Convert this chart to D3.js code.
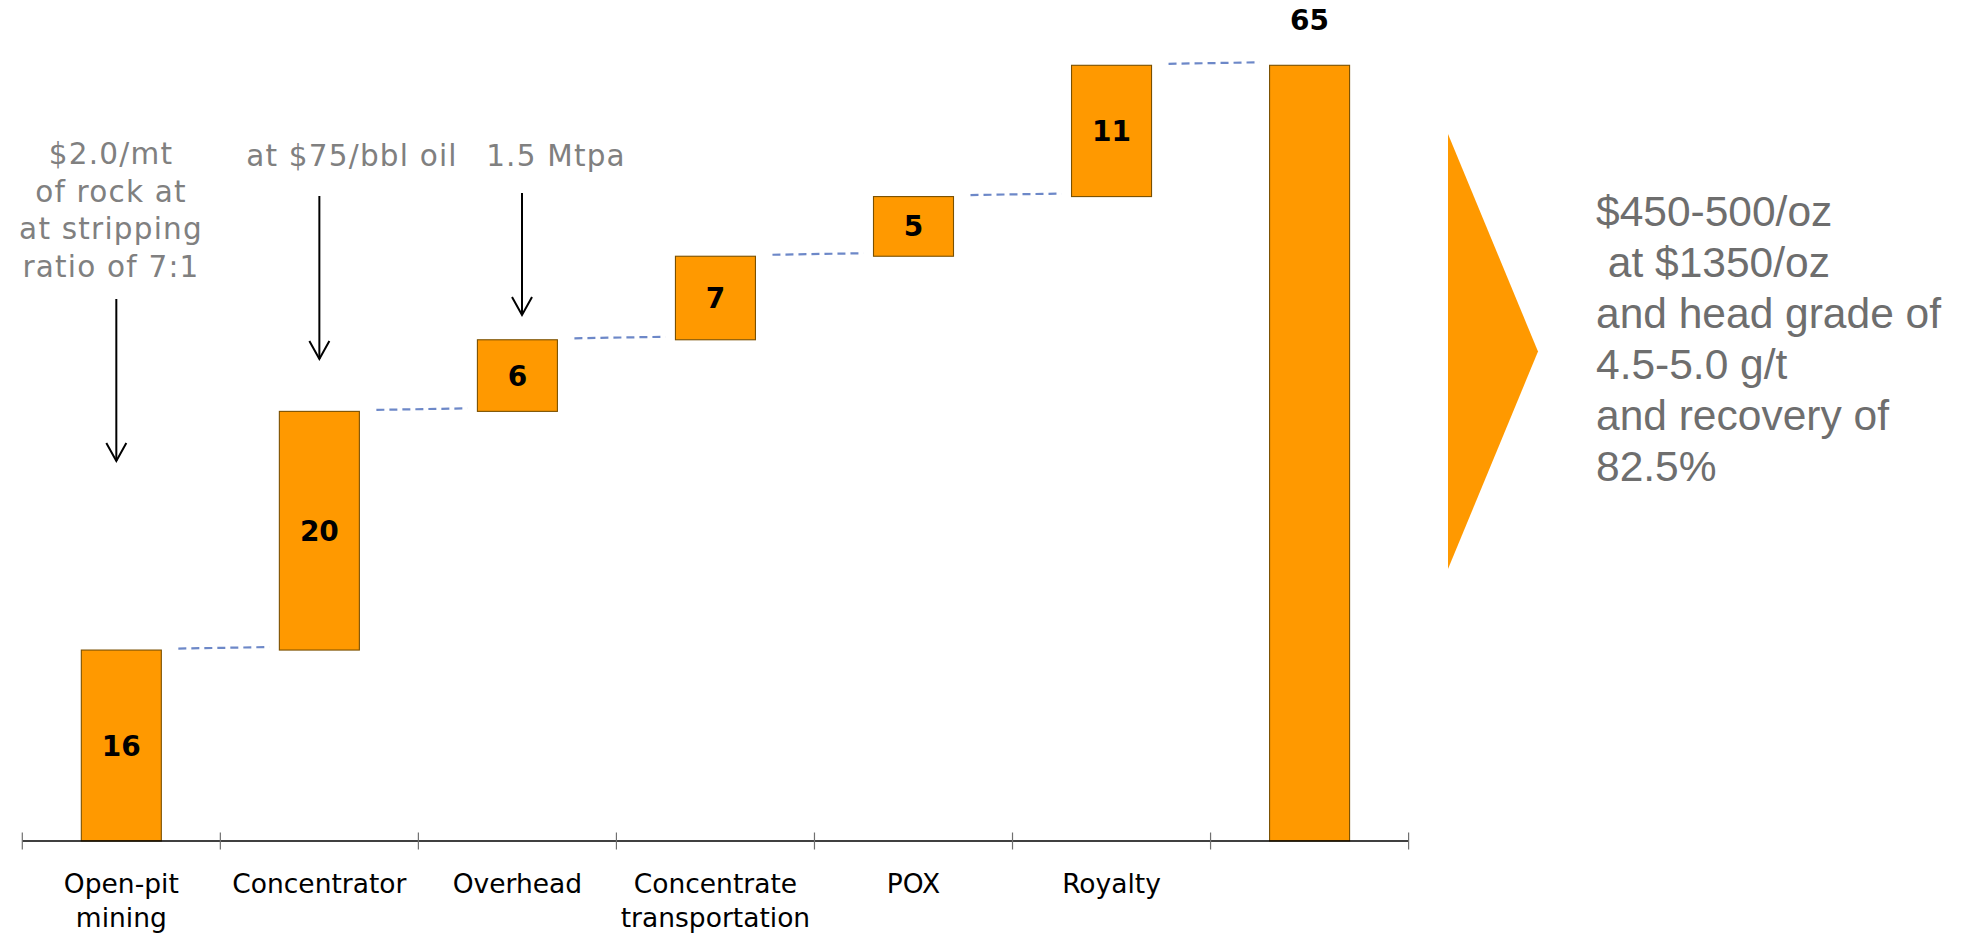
<!DOCTYPE html>
<html>
<head>
<meta charset="utf-8">
<script src="https://cdn.jsdelivr.net/npm/d3@7"></script>
<style>
  html, body { margin: 0; padding: 0; background: #ffffff; }
  svg { display: block; }
</style>
</head>
<body>
<svg id="chart" width="1966" height="933"></svg>
<script>
// ---- data ----
const categories = ["Open-pit mining", "Concentrator", "Overhead", "Concentrate transportation", "POX", "Royalty", "Total"];
const categoryLines = [["Open-pit", "mining"], ["Concentrator"], ["Overhead"], ["Concentrate", "transportation"], ["POX"], ["Royalty"], []];
const stepValues = [16, 20, 6, 7, 5, 11];
const totalValue = 65;
const annotation1 = ["$2.0/mt", "of rock at", "at stripping", "ratio of 7:1"];
const annotation2 = ["at $75/bbl oil"];
const annotation3 = ["1.5 Mtpa"];
const sideText = ["$450-500/oz", " at $1350/oz", "and head grade of", "4.5-5.0 g/t", "and recovery of", "82.5%"];

// ---- build waterfall table ----
let run = 0;
const bars = stepValues.map((v, i) => {
  const b = { i, start: run, end: run + v, value: v, total: false };
  run += v;
  return b;
});
bars.push({ i: stepValues.length, start: 0, end: totalValue, value: totalValue, total: true });

const svg = d3.select("#chart");
const ORANGE = "#ff9900";
const STROKE = "#7a5000";

const x = d3.scaleBand()
  .domain(d3.range(categories.length))
  .range([22.3, 1408.6])
  .paddingInner(0.596)
  .paddingOuter(0.298);
const y = d3.scaleLinear().domain([0, 65]).range([841, 65.3]);
const bw = x.bandwidth();
const gapHalf = (x.step() - bw) / 2;

// connectors
const conn = svg.append("g");
bars.slice(0, -1).forEach((b, k) => {
  const next = bars[k + 1];
  const yy = y(b.end);
  conn.append("line")
    .attr("x1", x(b.i) + bw + 17)
    .attr("x2", x(next.i) - 10)
    .attr("y1", yy - 1.5)
    .attr("y2", yy - 3)
    .attr("stroke", "#6d88c8")
    .attr("stroke-width", 2.2)
    .attr("stroke-dasharray", "8,5");
});

// bars
svg.append("g").selectAll("rect").data(bars).join("rect")
  .attr("x", d => x(d.i))
  .attr("width", bw)
  .attr("y", d => y(d.end))
  .attr("height", d => y(d.start) - y(d.end))
  .attr("fill", ORANGE)
  .attr("stroke", STROKE)
  .attr("stroke-width", 1.1);

// value labels
svg.append("g").selectAll("text").data(bars).join("text")
  .attr("x", d => x(d.i) + bw / 2)
  .attr("y", d => d.total ? y(d.end) - 35 : (y(d.start) + y(d.end)) / 2)
  .attr("dy", d => d.total ? 0 : "0.36em")
  .attr("text-anchor", "middle")
  .attr("font-family", "DejaVu Sans, Verdana, sans-serif")
  .attr("font-weight", "bold")
  .attr("font-size", "28px")
  .attr("fill", "#000")
  .text(d => d.value);

// axis
const axisG = svg.append("g");
const [r0, r1] = x.range();
axisG.append("line")
  .attr("x1", r0).attr("x2", r1)
  .attr("y1", y(0)).attr("y2", y(0))
  .attr("stroke", "#000").attr("stroke-width", 1.3);
const bounds = d3.range(categories.length).map(i => x(i) - gapHalf).concat([r1]);
axisG.selectAll("line.tick").data(bounds).join("line")
  .attr("class", "tick")
  .attr("x1", d => d).attr("x2", d => d)
  .attr("y1", y(0) - 8.5).attr("y2", y(0) + 8.5)
  .attr("stroke", "#707070").attr("stroke-width", 1.2);

// category labels
const catG = svg.append("g")
  .attr("font-family", "DejaVu Sans, Verdana, sans-serif")
  .attr("font-size", "26.5px")
  .attr("fill", "#000")
  .attr("text-anchor", "middle");
categoryLines.forEach((lines, i) => {
  const t = catG.append("text").attr("x", x(i) + bw / 2).attr("y", 893.3);
  lines.forEach((ln, j) => {
    t.append("tspan").attr("x", x(i) + bw / 2).attr("dy", j === 0 ? 0 : 33.4).text(ln);
  });
});

// annotations (gray text + arrows)
const annG = svg.append("g")
  .attr("font-family", "DejaVu Sans, Verdana, sans-serif")
  .attr("font-size", "29.5px")
  .attr("letter-spacing", "1.2px")
  .attr("fill", "#808080")
  .attr("text-anchor", "middle");
function annot(lines, cx, baseline) {
  lines.forEach((ln, j) => {
    annG.append("text").attr("x", cx).attr("y", baseline + j * 37.5).text(ln);
  });
}
annot(annotation1, 111, 164.3);
annot(annotation2, 352, 165.7);
annot(annotation3, 556, 165.7);

function arrow(ax, y1, y2) {
  const g = svg.append("g").attr("stroke", "#000").attr("stroke-width", 2).attr("fill", "none");
  g.append("line").attr("x1", ax).attr("x2", ax).attr("y1", y1).attr("y2", y2);
  g.append("path").attr("d", `M${ax - 10},${y2 - 18} L${ax},${y2} L${ax + 10},${y2 - 18}`);
}
arrow(x(0) + bw / 2 - 5, 299, 461);
arrow(x(1) + bw / 2, 196, 359);
arrow(x(2) + bw / 2 + 4.6, 193, 315);

// right side triangle + text
svg.append("path")
  .attr("d", "M1448,134 L1538,351.5 L1448,569 Z")
  .attr("fill", ORANGE);
const side = svg.append("g")
  .attr("font-family", "Liberation Sans, Arial, sans-serif")
  .attr("font-size", "42.5px")
  .attr("fill", "#6e6e6e");
sideText.forEach((ln, j) => {
  side.append("text").attr("x", 1596).attr("y", 226 + j * 51).attr("xml:space", "preserve").style("white-space", "pre").text(ln);
});
</script>
</body>
</html>
